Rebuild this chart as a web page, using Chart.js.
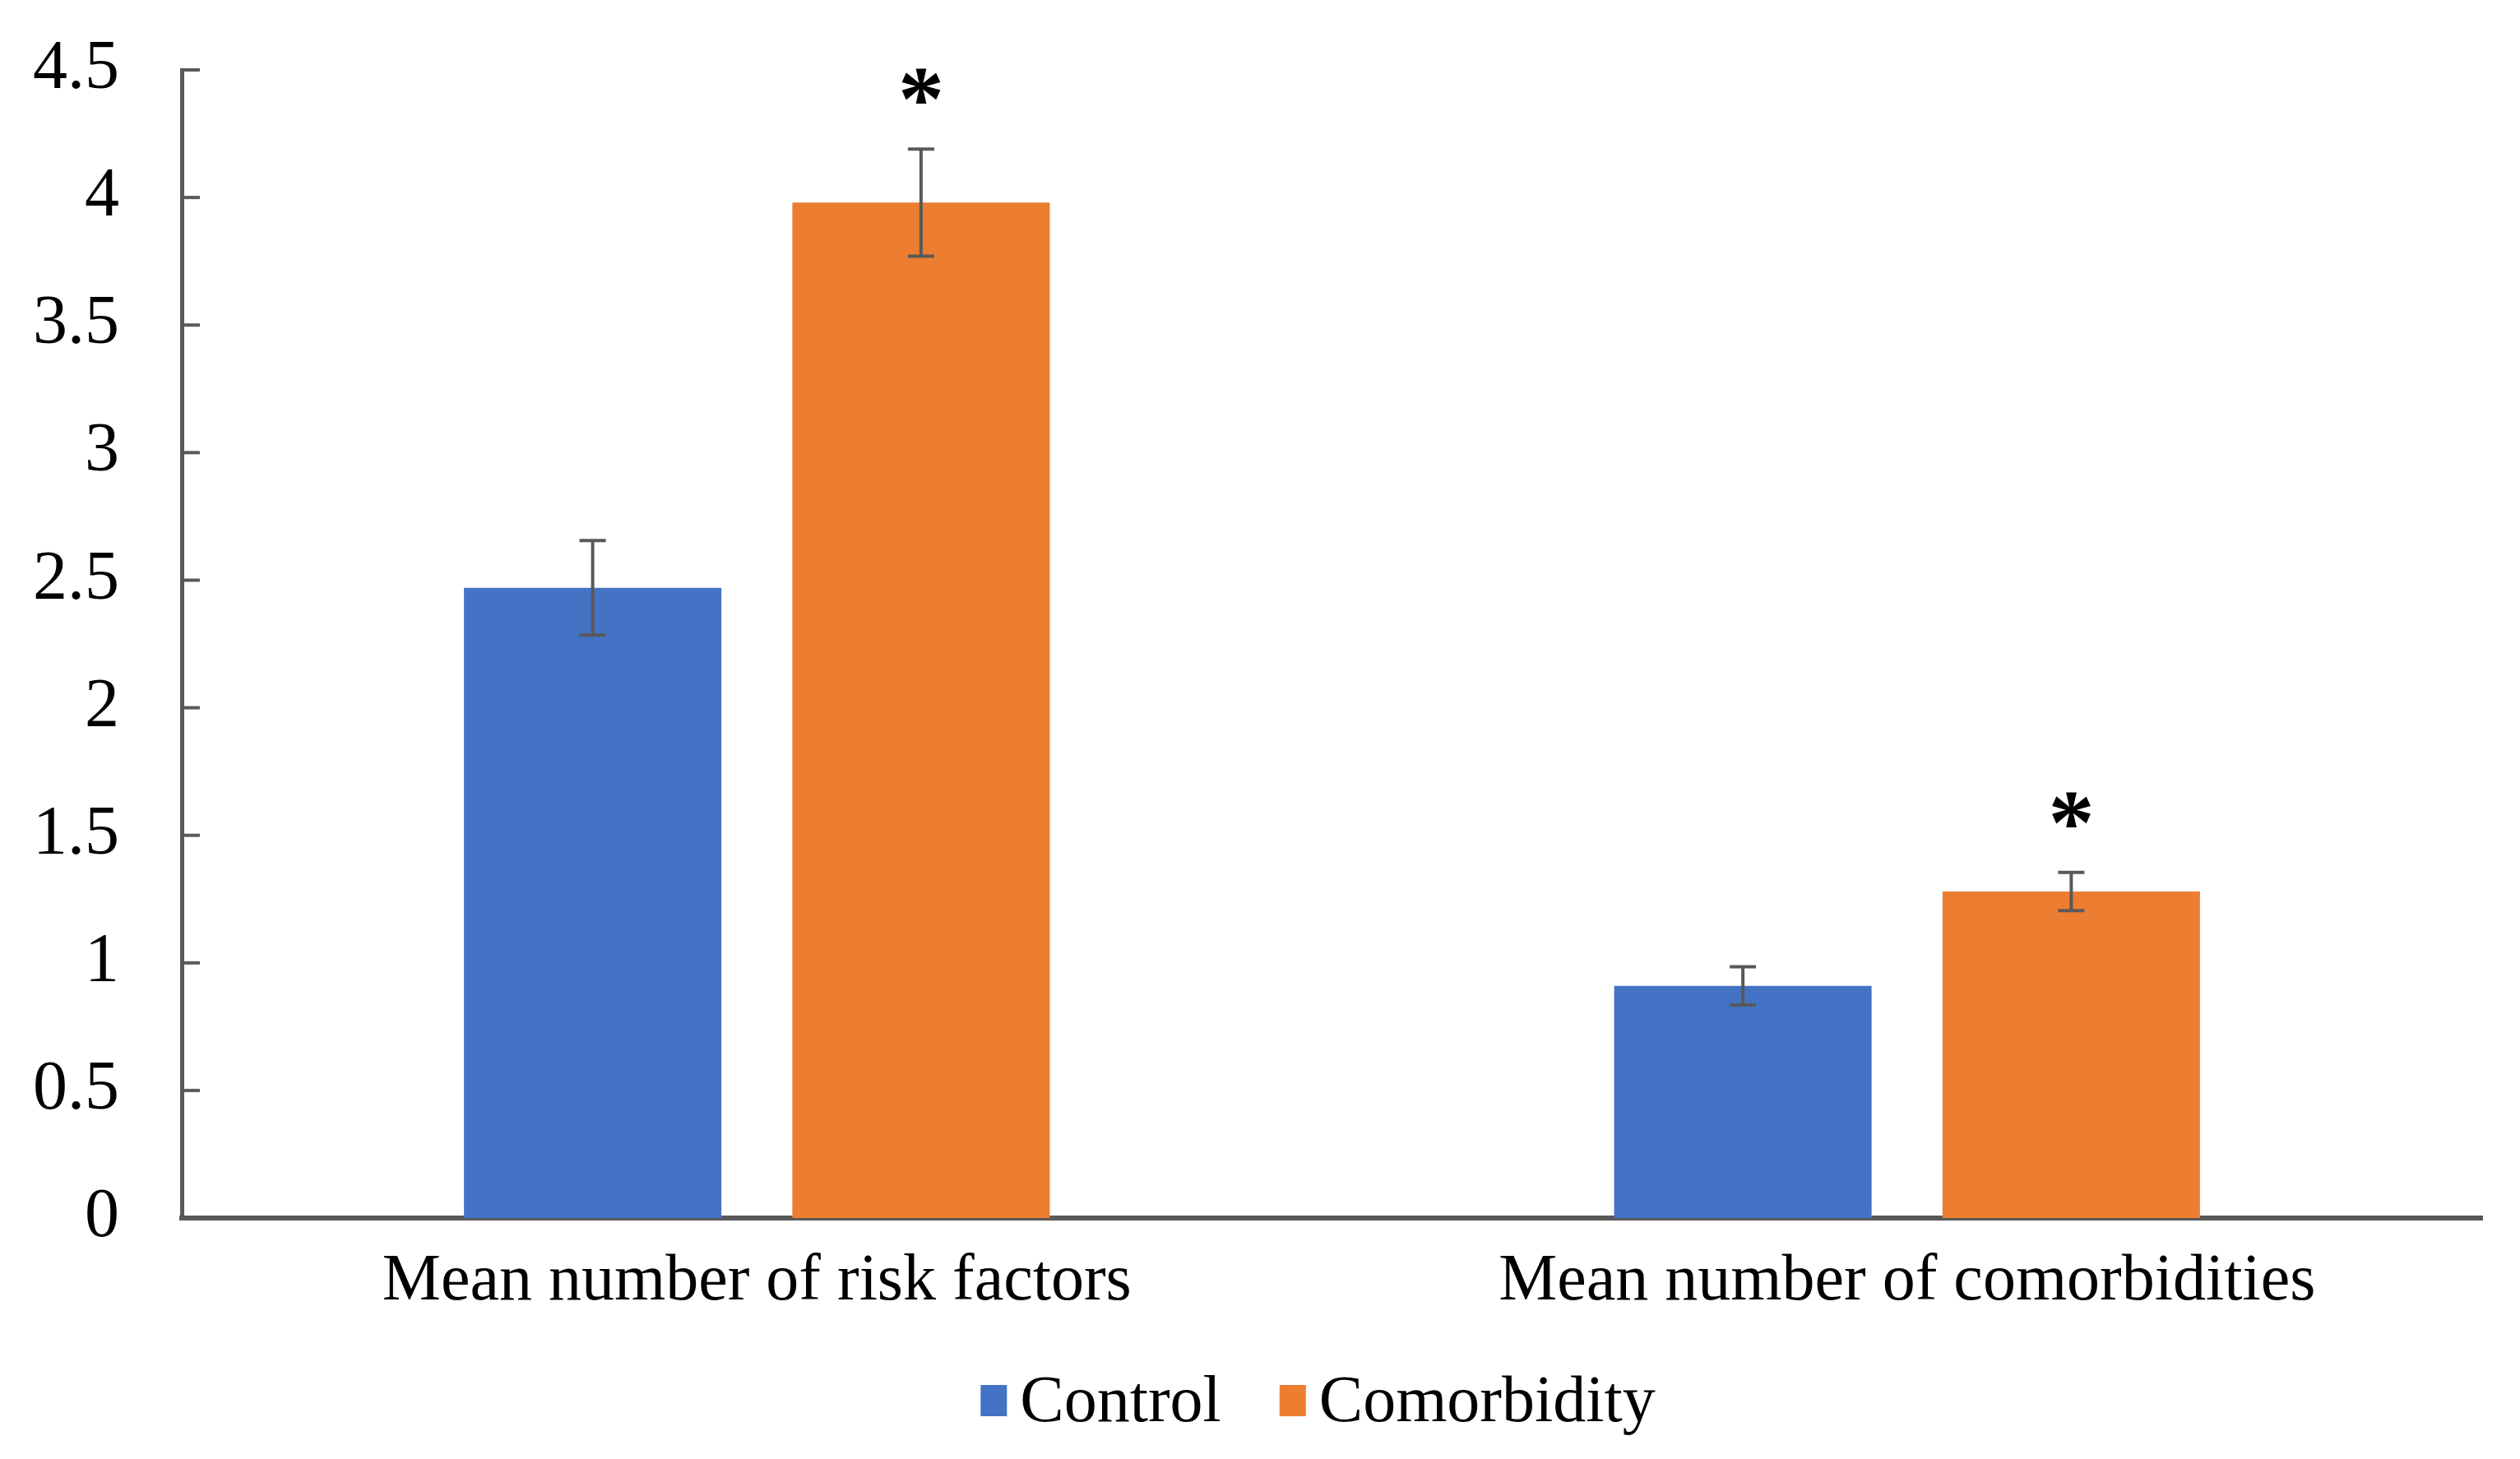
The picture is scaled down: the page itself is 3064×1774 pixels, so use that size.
<!DOCTYPE html>
<html>
<head>
<meta charset="utf-8">
<script src="https://cdn.jsdelivr.net/npm/chart.js@4.4.1/dist/chart.umd.min.js"></script>
<style>
  html, body { margin: 0; padding: 0; background: #ffffff; }
  #grafico { display: block; }
</style>
</head>
<body>
<canvas id="grafico" width="3064" height="1774"></canvas>
<script>
// Datos
const categorias = ["Mean number of risk factors", "Mean number of comorbidities"];
const series = ["Control", "Comorbidity"];
const valoresControl = [2.47, 0.91];
const valoresComorbilidad = [3.98, 1.28];
const erroresControl = [0.185, 0.075];
const erroresComorbilidad = [0.21, 0.075];
const significativoControl = [false, false];
const significativoComorbilidad = [true, true];
const ejeYMax = 4.5;
const ejeYPaso = 0.5;

const colores = ["#4472C4", "#ED7D31"];
const gris = "#595959";
const fuente = "'Liberation Serif', 'Times New Roman', serif";

// Barras de error y asteriscos
const barrasError = {
  id: "barrasError",
  afterDatasetsDraw(chart) {
    const ctx = chart.ctx;
    const y = chart.scales.y;
    ctx.save();
    chart.data.datasets.forEach((ds, i) => {
      const meta = chart.getDatasetMeta(i);
      meta.data.forEach((barra, j) => {
        const v = ds.data[j];
        const e = ds.errores[j];
        const yArriba = y.getPixelForValue(v + e);
        const yAbajo = y.getPixelForValue(v - e);
        ctx.strokeStyle = gris;
        ctx.lineWidth = 4;
        ctx.beginPath();
        ctx.moveTo(barra.x, yArriba);
        ctx.lineTo(barra.x, yAbajo);
        ctx.moveTo(barra.x - 16, yArriba);
        ctx.lineTo(barra.x + 16, yArriba);
        ctx.moveTo(barra.x - 16, yAbajo);
        ctx.lineTo(barra.x + 16, yAbajo);
        ctx.stroke();
        if (ds.significativo[j]) {
          ctx.fillStyle = "#000";
          ctx.font = "bold 112px " + fuente;
          ctx.textAlign = "center";
          ctx.textBaseline = "middle";
          ctx.fillText("*", barra.x, yArriba - 52);
        }
      });
    });
    ctx.restore();
  },
};

// Marcas del eje Y hacia dentro
const marcasEjeY = {
  id: "marcasEjeY",
  afterDraw(chart) {
    const ctx = chart.ctx;
    const y = chart.scales.y;
    const izq = chart.chartArea.left;
    ctx.save();
    ctx.strokeStyle = gris;
    ctx.lineWidth = 4;
    y.ticks.forEach((t) => {
      const py = y.getPixelForValue(t.value);
      ctx.beginPath();
      ctx.moveTo(izq, py);
      ctx.lineTo(izq + 22, py);
      ctx.stroke();
    });
    ctx.restore();
  },
};

// Leyenda centrada bajo el área del gráfico
const leyenda = {
  id: "leyenda",
  afterDraw(chart) {
    const ctx = chart.ctx;
    const area = chart.chartArea;
    ctx.save();
    ctx.font = "80px " + fuente;
    ctx.textBaseline = "middle";
    ctx.textAlign = "left";
    const caja = 32, altoCaja = 38, hueco = 16, separacion = 71;
    const anchos = chart.data.datasets.map((ds) => caja + hueco + ctx.measureText(ds.label).width);
    const total = anchos.reduce((a, b) => a + b, 0) + separacion * (anchos.length - 1);
    let x = (area.left + area.right) / 2 - 17 - total / 2;
    const yc = 1703;
    chart.data.datasets.forEach((ds, i) => {
      ctx.fillStyle = ds.backgroundColor;
      ctx.fillRect(x, yc - altoCaja / 2, caja, altoCaja);
      ctx.fillStyle = "#000";
      ctx.fillText(ds.label, x + caja + hueco, yc + 4);
      x += anchos[i] + separacion;
    });
    ctx.restore();
  },
};

function crearGrafico() {
  const ctx = document.getElementById("grafico").getContext("2d");
  new Chart(ctx, {
    type: "bar",
    data: {
      labels: categorias,
      datasets: [
        {
          label: series[0],
          data: valoresControl,
          errores: erroresControl,
          significativo: significativoControl,
          backgroundColor: colores[0],
        },
        {
          label: series[1],
          data: valoresComorbilidad,
          errores: erroresComorbilidad,
          significativo: significativoComorbilidad,
          backgroundColor: colores[1],
        },
      ],
    },
    options: {
      responsive: false,
      animation: false,
      devicePixelRatio: 1,
      categoryPercentage: 0.571,
      barPercentage: 0.784,
      layout: { autoPadding: false, padding: { top: 85, right: 46, left: 0, bottom: 0 } },
      plugins: {
        legend: { display: false },
        tooltip: { enabled: false },
      },
      scales: {
        x: {
          grid: { display: false, drawTicks: false },
          border: { display: true, color: gris, width: 6 },
          ticks: {
            color: "#000",
            padding: 30,
            font: { family: fuente, size: 80 },
          },
          afterFit: (scale) => { scale.height = 293; },
        },
        y: {
          min: 0,
          max: ejeYMax,
          grid: { display: false, drawTicks: false },
          border: { display: true, color: gris, width: 5 },
          ticks: {
            stepSize: ejeYPaso,
            color: "#000",
            padding: 76,
            font: { family: fuente, size: 84 },
            callback: (v) => String(Number(v.toFixed(1))),
          },
          afterFit: (scale) => {
            scale.width = 221;
            // el padding de las etiquetas no debe empujar el área del gráfico
            scale.paddingTop = 0;
            scale.paddingBottom = 0;
          },
        },
      },
    },
    plugins: [barrasError, marcasEjeY, leyenda],
  });
}

document.addEventListener("DOMContentLoaded", () => {
  crearGrafico();
});
</script>
</body>
</html>
